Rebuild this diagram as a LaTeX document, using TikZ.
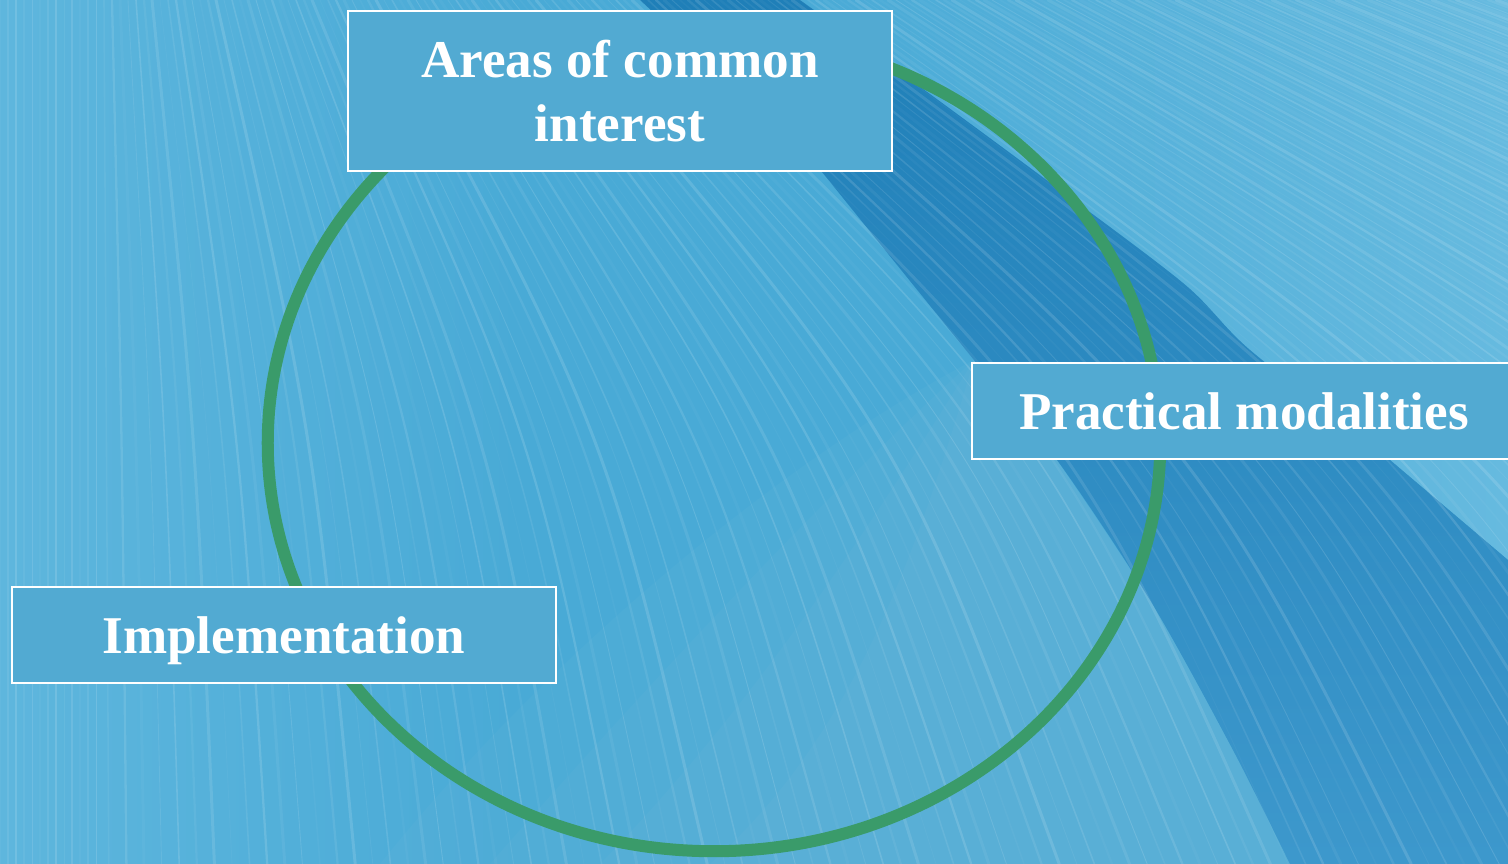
\documentclass[tikz,border=0pt]{standalone}
\usepackage{xcolor}
\usepackage{fontspec}
\setmainfont{Liberation Serif}

\definecolor{seamid}{HTML}{49AAD6}
\definecolor{sealight}{HTML}{5EB6DD}
\definecolor{seapale}{HTML}{66BADF}
\definecolor{seadeep}{HTML}{1F7FB8}
\definecolor{seadark}{HTML}{2A8AC3}
\definecolor{seasoft}{HTML}{3D98CC}
\definecolor{boxblue}{HTML}{52AAD2}
\definecolor{ringgreen}{HTML}{3A9B6A}

\begin{document}
\begin{tikzpicture}[
    x=0.01cm, y=-0.01cm,
    topic/.style={draw=white, line width=0.7pt, fill=boxblue, text=white,
        font=\fontsize{15.1}{18.2}\selectfont\bfseries, align=center,
        minimum width=5.44cm, inner sep=0pt},
    ring/.style={draw=ringgreen, line width=0.12cm},
    streak/.style={white, line cap=round}
]
\useasboundingbox (0,0) rectangle (1508,864);
\clip (0,0) rectangle (1508,864);

% background
\fill[seamid] (0,0) rectangle (1508,864);
\shade[left color=sealight, right color=seamid] (0,0) rectangle (520,864);
\shade[left color=seamid, right color=seapale]
    (800,0) -- (1508,0) -- (1508,560)
    -- plot[smooth] coordinates {(1390,460) (1250,350) (1183,283) (1037,173) (893,67) (800,0)}
    -- cycle;
\foreach \d in {0,1,2,3}{
    \fill[white, opacity=0.025] ({380+110*\d},864)
        .. controls ({560+100*\d},{640+30*\d}) and ({800+40*\d},{450+30*\d}) .. (974,360)
        -- plot[smooth] coordinates {(1057,460) (1150,600) (1233,750) (1290,864)} -- cycle;
}
\shade[top color=seadeep, middle color=seadark, bottom color=seasoft]
    (640,0) -- plot[smooth] coordinates {(818,167) (974,360) (1057,460) (1150,600) (1233,750) (1290,864)}
    -- (1508,864) -- (1508,560)
    -- plot[smooth] coordinates {(1390,460) (1250,350) (1183,283) (1037,173) (893,67) (800,0)}
    -- cycle;
\foreach \i in {0,...,190}{
    \pgfmathsetmacro\s{\i*8}
    \pgfmathsetmacro\f{max(0,\s-100)*1.2}
    \pgfmathsetmacro\lw{0.25+0.2*mod(\i*5,4)}
    \pgfmathsetmacro\op{0.03+0.025*mod(\i*7,5)}
    \draw[streak, line width=\lw pt, opacity=\op]
        (\s,0) .. controls ({\s+0.7*\f},432) .. ({\s+\f},864);
}

% cycle
\draw[ring] (714,443) ellipse [x radius=4.46cm, y radius=4.08cm];

\node[topic, minimum height=1.6cm] (interest) at (620,91) {Areas of common\\interest};
\node[topic, minimum height=0.96cm] (modalities) at (1244,411) {Practical modalities};
\node[topic, minimum height=0.96cm, text depth=0pt] (implementation) at (284,635) {Implementation};
\end{tikzpicture}
\end{document}
